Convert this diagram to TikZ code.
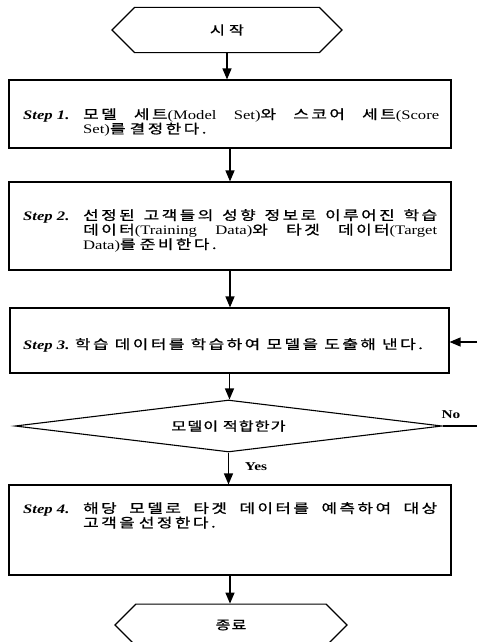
\documentclass[tikz,border=0pt]{standalone}
\usepackage{fontspec}
\setmainfont[FakeStretch=1.28]{Liberation Serif}
\newfontfamily\kofont[FakeStretch=1.3,LetterSpace=19,FakeBold=1]{Noto Sans CJK KR}
\newfontfamily\kofontn[FakeStretch=1.3,LetterSpace=8,FakeBold=1]{Noto Sans CJK KR}
\usetikzlibrary{shapes.geometric,shapes.misc,arrows.meta,calc}
\newcommand\K[1]{{\fontsize{13pt}{14.5pt}\kofont #1}}
\newcommand\Kn[1]{{\fontsize{12.5pt}{14.5pt}\kofontn #1}}
\newcommand\steplbl[1]{{\bfseries\itshape #1}}
\tikzset{
  stepbox/.style={draw, rectangle, line width=1.1pt, inner sep=0pt},
  termbox/.style={draw, chamfered rectangle, line width=1.1pt, inner sep=0pt},
  decbox/.style={draw, diamond, line width=1.1pt, inner sep=0pt},
  txt/.style={inner sep=0pt, font=\fontsize{13pt}{14.5pt}\selectfont},
  lbl/.style={inner sep=0pt, font=\fontsize{12pt}{14pt}\selectfont\bfseries},
  flow/.style={line width=1.2pt, -{Triangle[width=9pt,length=11pt]}},
  plain/.style={line width=1.2pt}
}
\begin{document}
\begin{tikzpicture}[x=1pt,y=-1pt]
\useasboundingbox (0,0) rectangle (477,642);
% terminals
\node[termbox, minimum width=230pt, minimum height=34pt,
      chamfered rectangle xsep=56pt, chamfered rectangle ysep=17pt] (s) at (227,30) {\Kn{시\hspace{4pt}작}};
\node[termbox, minimum width=232pt, minimum height=32pt,
      chamfered rectangle xsep=57pt, chamfered rectangle ysep=16pt] (e) at (231,625) {\Kn{종료}};
% boxes
\node[stepbox, minimum width=442pt, minimum height=68pt] (b1) at (230,114) {};
\node[stepbox, minimum width=442pt, minimum height=88pt] (b2) at (230,226) {};
\node[stepbox, minimum width=439pt, minimum height=65pt] (b3) at (229.5,340.5) {};
\node[stepbox, minimum width=442pt, minimum height=90pt] (b4) at (230,530) {};
\node[decbox, minimum width=427pt, minimum height=52pt, aspect=8.2] (d) at (228.5,426) {\Kn{모델이 적합한가}};
% texts
\node[txt, anchor=base west] (t1) at (23,119) {\makebox[60pt][l]{\steplbl{Step 1.}}\parbox[t]{356pt}{\K{모델} \K{세트}(Model Set)\K{와} \K{스코어} \K{세트}(Score\linebreak Set)\K{를} \K{결정한다.}}};
\node[txt, anchor=base west] (t2) at (23,220) {\makebox[60pt][l]{\steplbl{Step 2.}}\parbox[t]{354pt}{\K{선정된} \K{고객들의} \K{성향} \K{정보로} \K{이루어진} \K{학습}\linebreak \K{데이터}(Training Data)\K{와} \K{타겟} \K{데이터}(Target\linebreak Data)\K{를} \K{준비한다.}}};
\node[txt, anchor=base west] (t3) at (23,349) {\steplbl{Step 3.} \K{학습 데이터를 학습하여 모델을 도출해 낸다.}};
\node[txt, anchor=base west] (t4) at (23,513) {\makebox[60pt][l]{\steplbl{Step 4.}}\parbox[t]{354pt}{\K{해당} \K{모델로} \K{타겟} \K{데이터를} \K{예측하여} \K{대상}\linebreak \K{고객을} \K{선정한다.}}};
% labels
\node[lbl] (no) at (451,415) {No};
\node[lbl] (yes) at (256,467) {Yes};
% connectors
\draw[flow] (s.south) -- (s.south |- b1.north);
\draw[flow] (b1.south) -- (b1.south |- b2.north);
\draw[flow] (b2.south) -- (b2.south |- b3.north);
\draw[flow] (b3.south) -- (b3.south |- d.north);
\draw[flow] (d.south) -- (d.south |- b4.north);
\draw[flow] (b4.south) -- (b4.south |- e.north);
\coordinate (nr) at (477,426);
\coordinate (nb) at (477,342);
\draw[plain] (d.east) -- (nr);
\draw[flow] (nb) -- (nb -| b3.east);
\end{tikzpicture}
\end{document}
